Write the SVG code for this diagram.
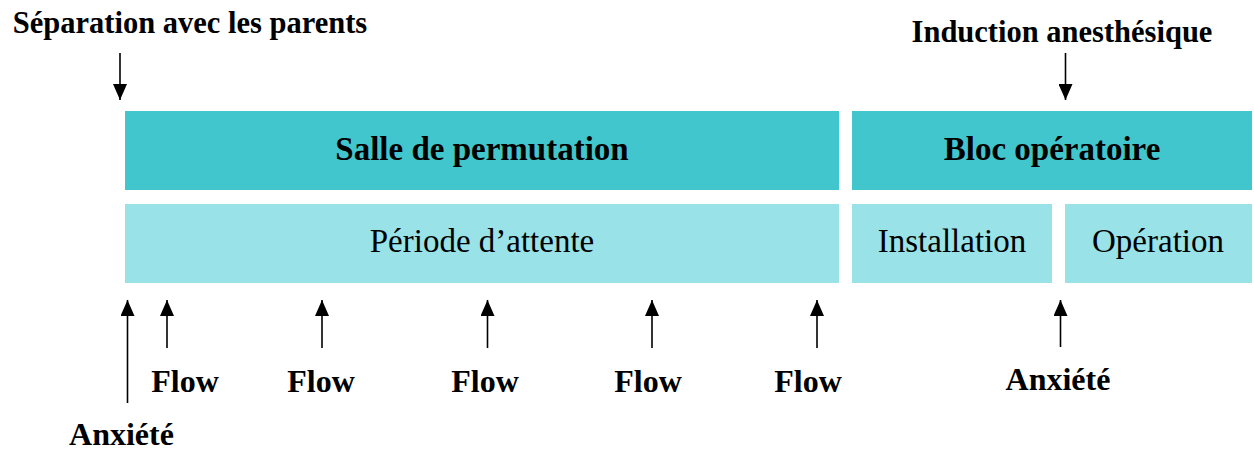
<svg xmlns="http://www.w3.org/2000/svg" width="1254" height="453" viewBox="0 0 1254 453">
<style>
text{font-family:"Liberation Serif","Times New Roman",serif;fill:#000;text-anchor:middle}
.b{font-weight:bold}
.dark{fill:#42C6CD}
.light{fill:#99E2E7}
</style>
<defs>
<marker id="ahu" viewBox="0 0 14 16" refX="7" refY="0" markerWidth="14" markerHeight="16" markerUnits="userSpaceOnUse" orient="0">
<path d="M7,0 L14,16 L0,16 Z" fill="#000"/>
</marker>
<marker id="ahd" viewBox="0 0 14 16" refX="7" refY="16" markerWidth="14" markerHeight="16" markerUnits="userSpaceOnUse" orient="0">
<path d="M0,0 L14,0 L7,16 Z" fill="#000"/>
</marker>
</defs>
<g id="salle"><rect class="dark" x="125" y="111" width="714" height="79"/><text class="b" x="482" y="160" font-size="33">Salle de permutation</text></g>
<g id="bloc"><rect class="dark" x="852" y="111" width="400" height="79"/><text class="b" x="1052" y="160" font-size="33">Bloc opératoire</text></g>
<g id="periode"><rect class="light" x="125" y="204" width="714" height="79"/><text x="482" y="252" font-size="33">Période d’attente</text></g>
<g id="installation"><rect class="light" x="852" y="204" width="200" height="79"/><text x="952" y="252" font-size="33">Installation</text></g>
<g id="operation"><rect class="light" x="1065" y="204" width="187" height="79"/><text x="1158" y="252" font-size="33">Opération</text></g>
<g id="separation"><text class="b" x="190" y="33" font-size="30.5">Séparation avec les parents</text></g>
<g id="induction"><text class="b" x="1062" y="42" font-size="30.5">Induction anesthésique</text></g>
<g id="anxiete1"><text class="b" x="121.5" y="445" font-size="32">Anxiété</text></g>
<g id="anxiete2"><text class="b" x="1058" y="390" font-size="32">Anxiété</text></g>
<g id="flow1"><text class="b" x="185" y="392" font-size="32">Flow</text></g>
<g id="flow2"><text class="b" x="321" y="392" font-size="32">Flow</text></g>
<g id="flow3"><text class="b" x="485" y="392" font-size="32">Flow</text></g>
<g id="flow4"><text class="b" x="648" y="392" font-size="32">Flow</text></g>
<g id="flow5"><text class="b" x="808" y="392" font-size="32">Flow</text></g>
<g id="connectors" stroke="#000" stroke-width="1.6" fill="none">
<line x1="120" y1="53" x2="120" y2="100" marker-end="url(#ahd)"/>
<line x1="1065.5" y1="53" x2="1065.5" y2="100" marker-end="url(#ahd)"/>
<line x1="127.5" y1="403" x2="127.5" y2="300" marker-end="url(#ahu)"/>
<line x1="167" y1="348" x2="167" y2="300" marker-end="url(#ahu)"/>
<line x1="322" y1="348" x2="322" y2="300" marker-end="url(#ahu)"/>
<line x1="487.5" y1="348" x2="487.5" y2="300" marker-end="url(#ahu)"/>
<line x1="652" y1="348" x2="652" y2="300" marker-end="url(#ahu)"/>
<line x1="817" y1="348" x2="817" y2="300" marker-end="url(#ahu)"/>
<line x1="1060.5" y1="347" x2="1060.5" y2="300" marker-end="url(#ahu)"/>
</g>
</svg>
